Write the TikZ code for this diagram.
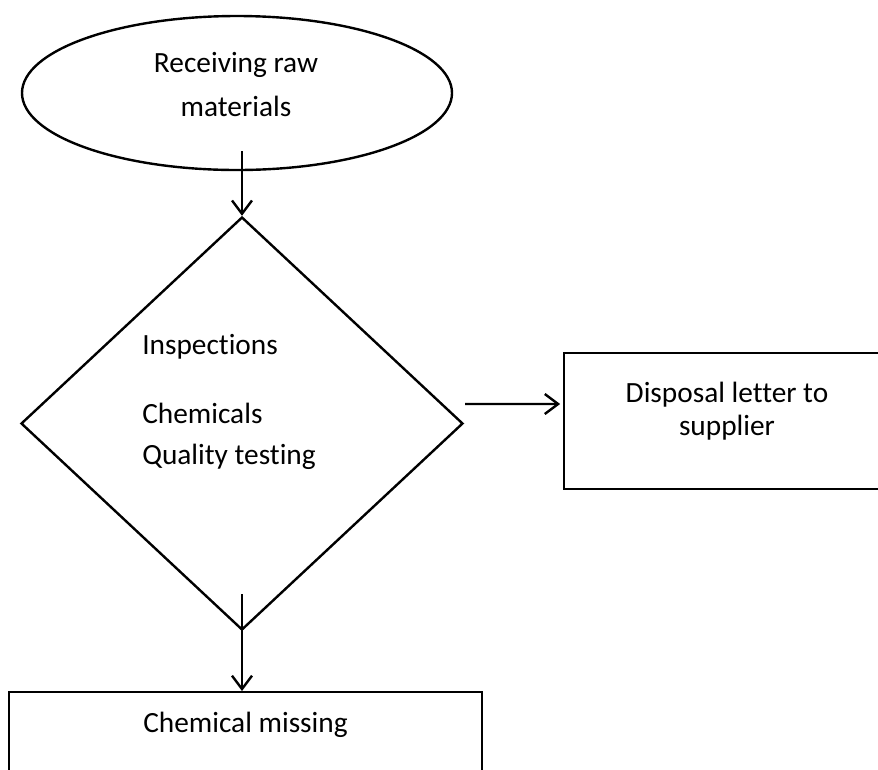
\documentclass[tikz,border=0pt]{standalone}
\usepackage{fontspec}
\setmainfont{Carlito}[Ligatures=NoCommon]
\usetikzlibrary{shapes.geometric,arrows.meta}
\tikzset{
  every node/.style={font=\fontsize{22pt}{33pt}\selectfont},
  flowline/.style={line width=1.8pt},
  flowarrow/.style={flowline,-{Straight Barb[length=10pt,width=15pt]}},
}
\begin{document}
\begin{tikzpicture}[x=0.75pt,y=-0.75pt]
  \useasboundingbox (0,0) rectangle (878,769);
  \clip (0,0) rectangle (878,769);

  % SHAPES
  \node[draw, flowline, ellipse, minimum width=322.5pt, minimum height=115.5pt,
        inner sep=0] (receive) at (237,93) {};
  \node[anchor=north, inner sep=0, align=center] (receivetext)
        at (236,52) {Receiving raw\\materials};

  \node[draw, flowline, diamond, minimum width=331.5pt, minimum height=309.75pt,
        inner sep=0] (check) at (242,423.5) {};
  \node[anchor=north west, inner sep=0, align=left,
        font=\fontsize{22pt}{30.75pt}\selectfont] (checktext) at (142,334)
        {Inspections\\[20.75pt]Chemicals\\Quality testing};

  \node[draw, flowline, minimum width=244.5pt, minimum height=102pt] (supplier) at (727,421) {};
  \node[anchor=north, inner sep=0, align=center,
        font=\fontsize{22pt}{24.75pt}\selectfont] (suppliertext)
        at ([yshift=-22.9pt]supplier.north) {Disposal letter to\\supplier};

  \node[draw, flowline, minimum width=354.75pt, minimum height=112.5pt,
        anchor=north] (missing) at (245.5,691) {};
  \node[anchor=north, inner sep=0] (missingtext)
        at ([yshift=-16pt]missing.north) {Chemical missing};

  % ARROWS
  \draw[flowarrow] ([yshift=15pt]receive.south -| check.north) -- (check.north);
  \draw[flowarrow] ([xshift=0.75pt,yshift=14.6pt]check.east) -- ([yshift=12.75pt,xshift=-2pt]supplier.west);
  \draw[flowarrow] ([yshift=27.75pt]check.south) -- (check.south |- missing.north);
\end{tikzpicture}
\end{document}
